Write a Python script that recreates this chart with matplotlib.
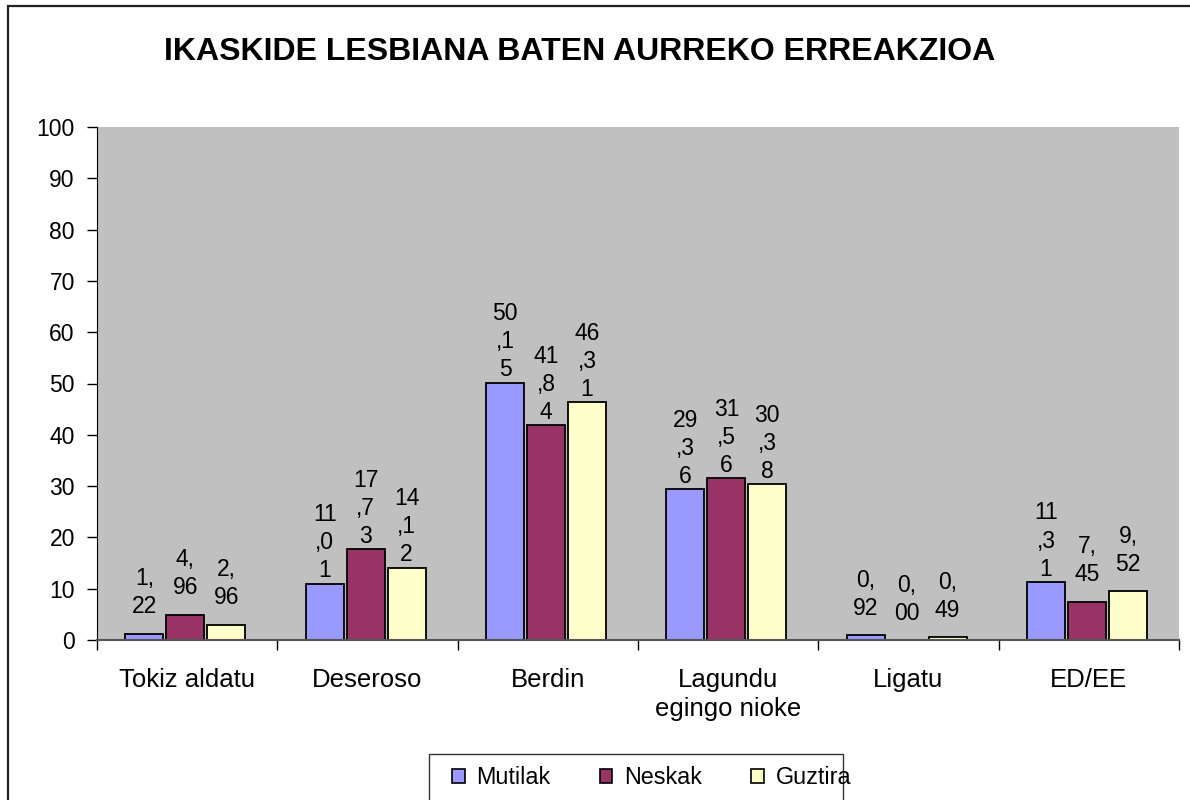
import matplotlib
matplotlib.use("Agg")
import matplotlib.pyplot as plt
from matplotlib.patches import Rectangle
import numpy as np

plt.rcParams['font.family'] = ['Liberation Sans', 'DejaVu Sans']

# Chart data
categories = ["Tokiz aldatu", "Deseroso", "Berdin", "Lagundu\negingo nioke", "Ligatu", "ED/EE"]
series_names = ["Mutilak", "Neskak", "Guztira"]
mutilak = [1.22, 11.01, 50.15, 29.36, 0.92, 11.31]
neskak = [4.96, 17.73, 41.84, 31.56, 0.00, 7.45]
guztira = [2.96, 14.12, 46.31, 30.38, 0.49, 9.52]
colors = ["#9999FF", "#993366", "#FFFFCC"]
yticks = [0, 10, 20, 30, 40, 50, 60, 70, 80, 90, 100]


def wrap_label(v):
    # the data labels in the original are squeezed into two-character lines
    s = f"{v:.2f}".replace(".", ",")
    return "\n".join(s[i:i + 2] for i in range(0, len(s), 2))


W, H = 1190, 800
fig = plt.figure(figsize=(W / 100, H / 100), dpi=100)
fig.patch.set_facecolor("white")

# outer chart frame (right and bottom edges fall outside the image)
fig.patches.append(Rectangle((8 / W, -0.2), 1.2, (H - 6) / H + 0.2,
                             transform=fig.transFigure, fill=False,
                             edgecolor="#222222", linewidth=1.6))

ax = fig.add_axes([97 / W, (H - 640) / H, (1179 - 97) / W, (640 - 127) / H])
ax.set_facecolor("#C0C0C0")

x = np.arange(len(categories))
width = 0.21
step = 0.227
for k, (vals, col, name) in enumerate(zip([mutilak, neskak, guztira], colors, series_names)):
    pos = x + (k - 1) * step - 0.01
    bars = ax.bar(pos, vals, width, color=col, edgecolor="black", linewidth=1.3, label=name)
    for b, v in zip(bars, vals):
        # label box is centred as if it held three lines
        ax.annotate(wrap_label(v), (b.get_x() + b.get_width() / 2, v),
                    xytext=(0, 29.5), textcoords="offset points",
                    ha="center", va="center", fontsize=16.5, linespacing=1.28)

ax.set_xlim(-0.5, len(categories) - 0.5)
ax.set_ylim(0, 100)
ax.set_yticks(yticks)
ax.tick_params(axis="y", length=7, width=1, direction="out", labelsize=16.5, pad=9)

ax.set_xticks(np.arange(len(categories) + 1) - 0.5)
ax.set_xticklabels([])
ax.tick_params(axis="x", which="major", length=7, width=1, direction="out")
ax.set_xticks(x, minor=True)
ax.set_xticklabels(categories, minor=True, fontsize=18.5, linespacing=1.3)
ax.tick_params(axis="x", which="minor", length=0, pad=20)

for side in ["top", "right"]:
    ax.spines[side].set_visible(False)
ax.spines["left"].set_color("black")
ax.spines["bottom"].set_color("#555555")
ax.spines["bottom"].set_linewidth(1.5)

fig.text(580 / W, 1 - 52 / H, "IKASKIDE LESBIANA BATEN AURREKO ERREAKZIOA",
         ha="center", va="center", fontsize=23, fontweight="bold")

# legend frame drawn separately; the last entry spills over it as in the original
fig.patches.append(Rectangle((429 / W, -0.1), (843 - 429) / W, 0.1 + (H - 754) / H,
                             transform=fig.transFigure, fill=False,
                             edgecolor="#333333", linewidth=1.0))
handles = [Rectangle((0, 0), 1, 1, facecolor=c, edgecolor="black", linewidth=1.2) for c in colors]
leg = fig.legend(handles, series_names, loc="center left",
                 bbox_to_anchor=(452 / W, 1 - 778 / H), ncol=3, fontsize=16.8,
                 frameon=False, handlelength=0.55, handleheight=0.55,
                 handletextpad=0.5, columnspacing=2.1, borderpad=0, borderaxespad=0)

fig.savefig("out.png", dpi=100)
